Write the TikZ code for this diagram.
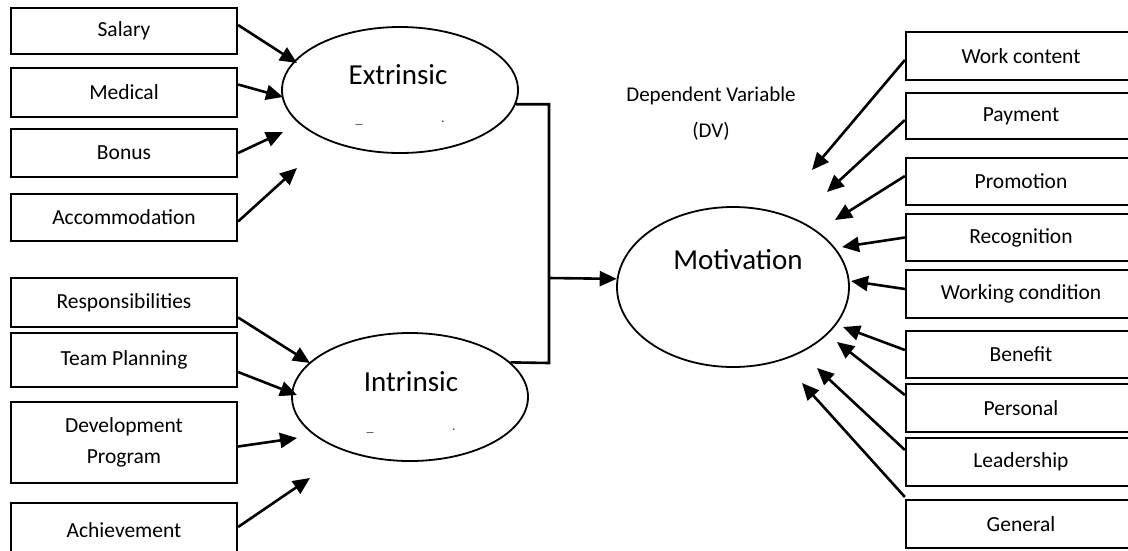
\documentclass[tikz,border=0pt]{standalone}
\usepackage{fontspec}
\setmainfont{Carlito}
\usetikzlibrary{arrows.meta,shapes.geometric}
\begin{document}
\begin{tikzpicture}[x=1pt,y=-1pt,
 box/.style={draw,line width=2.2pt,minimum width=226pt,inner sep=0pt,font=\fontsize{21.5}{31}\selectfont,align=center},
 rbox/.style={box,minimum width=230pt},
 oval/.style={draw,ellipse,line width=1.8pt,inner sep=0pt},
 arr/.style={line width=2.6pt,-{Triangle[length=17pt,width=15pt]}},
 conn/.style={line width=2.6pt},
 big/.style={font=\fontsize{29}{34}\selectfont},
 lbl/.style={font=\fontsize{21}{36}\selectfont,align=center},
 tick/.style={font=\fontsize{14}{16}\selectfont,text=black!75}]
\useasboundingbox (0,0) rectangle (1128,550);
\clip (0,0) rectangle (1128,550);

% left boxes
\node[box,minimum height=46pt] (sal) at (124,31) {Salary};
\node[box,minimum height=49pt] (med) at (124,92.5) {Medical};
\node[box,minimum height=48pt] (bon) at (124,153) {Bonus};
\node[box,minimum height=47pt] (acc) at (124,217.5) {Accommodation};
\node[box,minimum height=49pt] (res) at (124,302.5) {Responsibilities};
\node[box,minimum height=54pt] (team) at (124,360) {Team Planning};
\node[box,minimum height=81pt] (dev) at (124,442.5) {Development\\Program};
\node[box,minimum height=54pt] (ach) at (124,530) {Achievement};

% ellipses
\node[oval,minimum width=236pt,minimum height=126pt] (ext) at (400,90) {};
\node[big] (extt) at (398,75) {Extrinsic};
\node[tick] (extm1) at (359,124) {\_};
\node[tick] (extm2) at (443,122) {.};
\node[oval,minimum width=236pt,minimum height=128pt] (int) at (410,397) {};
\node[big] (intt) at (411,382) {Intrinsic};
\node[tick] (intm1) at (370,432) {\_};
\node[tick] (intm2) at (454,430) {.};
\node[oval,minimum width=232pt,minimum height=160pt] (mot) at (733,287) {};
\node[big] (mott) at (738,260) {Motivation};
\node[lbl] (dv) at (711,114) {Dependent Variable\\(DV)};

% right boxes
\node[rbox,minimum height=48pt] (wc) at (1021,56) {Work content};
\node[rbox,minimum height=46pt] (pay) at (1021,116) {Payment};
\node[rbox,minimum height=47pt] (pro) at (1021,181.5) {Promotion};
\node[rbox,minimum height=47pt] (rec) at (1021,237.5) {Recognition};
\node[rbox,minimum height=48pt] (wcon) at (1021,294) {Working condition};
\node[rbox,minimum height=47pt] (ben) at (1021,354.5) {Benefit};
\node[rbox,minimum height=48pt] (per) at (1021,408) {Personal};
\node[rbox,minimum height=48pt] (lead) at (1021,462) {Leadership};
\node[rbox,minimum height=48pt] (gen) at (1021,524) {General};

% arrow tips (free ends)
\coordinate (tsal) at (297,63);
\coordinate (tmed) at (283,97);
\coordinate (tbon) at (283,132);
\coordinate (tacc) at (297,168);
\coordinate (tres) at (310,363);
\coordinate (tteam) at (297,395);
\coordinate (tdev) at (297,438);
\coordinate (tach) at (310,478);
\coordinate (twc) at (812,170);
\coordinate (tpay) at (827,192);
\coordinate (tpro) at (835,220);
\coordinate (trec) at (842,247);
\coordinate (twcon) at (851,281);
\coordinate (tben) at (843,327);
\coordinate (tper) at (837,342);
\coordinate (tlead) at (817,368);
\coordinate (tgen) at (802,383);
\coordinate (jb) at (549,363);
\coordinate (jm) at (549,278);

% left arrows
\draw[arr] ([yshift=6pt]sal.east) -- (tsal);
\draw[arr] ([yshift=8pt]med.east) -- (tmed);
\draw[arr] (bon.east) -- (tbon);
\draw[arr] ([yshift=-4pt]acc.east) -- (tacc);
\draw[arr] ([yshift=-15pt]res.east) -- (tres);
\draw[arr] ([yshift=-12pt]team.east) -- (tteam);
\draw[arr] ([yshift=-4pt]dev.east) -- (tdev);
\draw[arr] ([yshift=3pt]ach.east) -- (tach);

% bracket connector
\draw[conn] (ext.-7.5) -| (jb) -- (int.19);
\draw[arr] (jm) -- (mot.176);

% right arrows
\draw[arr] ([yshift=-4pt]wc.west) -- (twc);
\draw[arr] ([yshift=-4pt]pay.west) -- (tpay);
\draw[arr] ([yshift=5.5pt]pro.west) -- (tpro);
\draw[arr] (rec.west) -- (trec);
\draw[arr] ([yshift=5pt]wcon.west) -- (twcon);
\draw[arr] ([yshift=4.5pt]ben.west) -- (tben);
\draw[arr] ([yshift=13pt]per.west) -- (tper);
\draw[arr] ([yshift=12pt]lead.west) -- (tlead);
\draw[arr] ([yshift=27pt]gen.west) -- (tgen);
\end{tikzpicture}
\end{document}
